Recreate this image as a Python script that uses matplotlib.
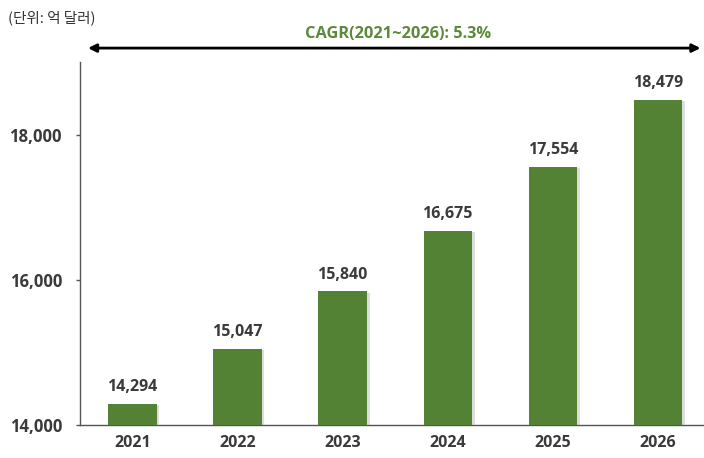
import matplotlib
matplotlib.use("Agg")
import matplotlib.pyplot as plt
import matplotlib.patheffects as pe

years = ["2021", "2022", "2023", "2024", "2025", "2026"]
values = [14294, 15047, 15840, 16675, 17554, 18479]
value_labels = ["14,294", "15,047", "15,840", "16,675", "17,554", "18,479"]
yticks = [14000, 16000, 18000]
ytick_labels = ["14,000", "16,000", "18,000"]

plt.rcParams['font.family'] = ['Open Sans', 'Noto Sans CJK KR', 'DejaVu Sans']

fig = plt.figure(figsize=(7.04, 4.58), dpi=100)
ax = fig.add_axes([0.1136, 0.0721, 0.8864, 0.7925])

green = "#548235"
txt = "#3a3a3a"
x = list(range(len(years)))
bars = ax.bar(x, values, width=0.46, color=green, zorder=3,
              path_effects=[pe.SimplePatchShadow(offset=(2, -1), shadow_rgbFace="#aaaaaa", alpha=0.4), pe.Normal()])

for xi, v, lab in zip(x, values, value_labels):
    ax.text(xi, v + 120, lab, ha="center", va="bottom", fontsize=11.5, fontweight="bold", color=txt)

ax.set_ylim(14000, 19000)
ax.set_xlim(-0.5, 5.44)
ax.set_yticks(yticks)
ax.set_yticklabels(ytick_labels, fontsize=12, fontweight="bold", color=txt)
ax.set_xticks(x)
ax.set_xticklabels(years, fontsize=11.5, fontweight="bold", color=txt)
ax.tick_params(axis="x", length=0, pad=7)
ax.tick_params(axis="y", length=3, width=1, color="#555555", pad=10)
for s in ["top", "right"]:
    ax.spines[s].set_visible(False)
ax.spines["left"].set_color("#555555")
ax.spines["bottom"].set_color("#555555")
ax.spines["left"].set_linewidth(1)
ax.spines["bottom"].set_linewidth(1)

fig.text(0.012, 0.962, "(단위: 억 달러)", fontsize=10.5, color="#333333", ha="left", va="center",
         family=['Noto Sans CJK KR', 'DejaVu Sans'])

ax.annotate("", xy=(0.995, 0.895), xytext=(0.125, 0.895), xycoords="figure fraction",
            arrowprops=dict(arrowstyle="<|-|>", color="black", lw=2, mutation_scale=12, shrinkA=0, shrinkB=0))
fig.text(0.565, 0.926, "CAGR(2021~2026): 5.3%", fontsize=11.8, fontweight="bold", color="#5b8a3a",
         ha="center", va="center")

fig.savefig("out.png", dpi=100)
